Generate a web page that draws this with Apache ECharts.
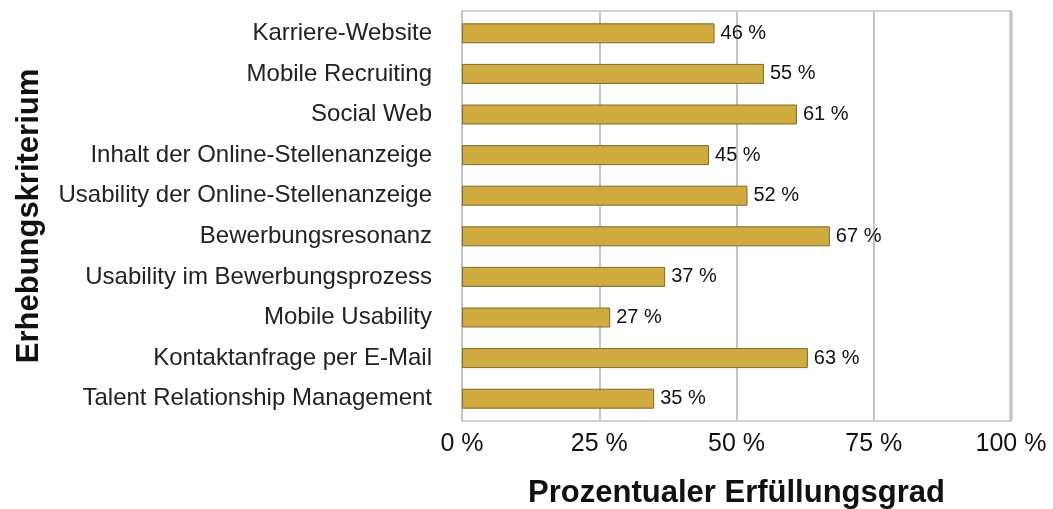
<!DOCTYPE html>
<html>
<head>
<meta charset="utf-8">
<script src="https://cdn.jsdelivr.net/npm/echarts@6/dist/echarts.min.js"></script>
<style>
  html, body { margin: 0; padding: 0; background: #fff; }
  #chart { width: 1053px; height: 509px; }
</style>
</head>
<body>
<div id="chart"></div>
<script>
// categories listed top to bottom
const categories = [
  'Karriere-Website',
  'Mobile Recruiting',
  'Social Web',
  'Inhalt der Online-Stellenanzeige',
  'Usability der Online-Stellenanzeige',
  'Bewerbungsresonanz',
  'Usability im Bewerbungsprozess',
  'Mobile Usability',
  'Kontaktanfrage per E-Mail',
  'Talent Relationship Management'
];
const values = [46, 55, 61, 45, 52, 67, 37, 27, 63, 35];
const xTicks = [0, 25, 50, 75, 100];

const font = '"Liberation Sans", Arial, sans-serif';

const chart = echarts.init(document.getElementById('chart'));
chart.setOption({
  animation: false,
  // grid 0: frame, gridlines and x labels; grid 1: the bars
  grid: [
    { left: 462, right: 42, top: 11, bottom: 88, outerBoundsMode: 'none' },
    { left: 462, right: 42, top: 13, bottom: 90, outerBoundsMode: 'none' }
  ],
  xAxis: [{
    gridIndex: 0,
    type: 'value',
    min: xTicks[0],
    max: xTicks[xTicks.length - 1],
    interval: 25,
    name: 'Prozentualer Erfüllungsgrad',
    nameLocation: 'middle',
    nameGap: 57,
    nameTextStyle: { fontFamily: font, fontWeight: 'bold', fontSize: 31, color: '#111' },
    axisLine: { show: false },
    axisTick: { show: false },
    axisLabel: {
      fontFamily: font, fontSize: 25, color: '#111', margin: 11,
      formatter: v => v + ' %'
    },
    splitLine: { lineStyle: { color: '#c4c4c4', width: 2 } }
  }, {
    gridIndex: 1,
    type: 'value',
    min: xTicks[0],
    max: xTicks[xTicks.length - 1],
    show: false
  }],
  yAxis: [{
    gridIndex: 0,
    type: 'category',
    data: categories,
    show: false
  }, {
    gridIndex: 1,
    type: 'category',
    data: categories,
    inverse: true,
    name: 'Erhebungskriterium',
    nameLocation: 'middle',
    nameGap: 417,
    nameRotate: 90,
    nameTextStyle: { fontFamily: font, fontWeight: 'bold', fontSize: 31, color: '#111' },
    axisLine: { show: false },
    axisTick: { show: false },
    axisLabel: { fontFamily: font, fontSize: 24, color: '#222', margin: 30 },
    splitLine: { show: false }
  }],
  series: [{
    type: 'bar',
    xAxisIndex: 1,
    yAxisIndex: 1,
    data: values,
    barWidth: 20,
    itemStyle: { color: '#cfab40', borderColor: '#7d6a2e', borderWidth: 1 },
    label: {
      show: true,
      position: 'right',
      distance: 6,
      fontFamily: font,
      fontSize: 20,
      color: '#111',
      formatter: p => p.value + ' %'
    }
  }],
  graphic: [{
    type: 'rect',
    shape: { x: 462, y: 11, width: 549, height: 410 },
    style: { fill: 'none', stroke: '#c4c4c4', lineWidth: 1.5 },
    silent: true, z: -1
  }, {
    type: 'line',
    shape: { x1: 462, y1: 11, x2: 462, y2: 421 },
    style: { stroke: '#8a8a8a', lineWidth: 2 },
    silent: true
  }, {
    type: 'line',
    shape: { x1: 1011, y1: 11, x2: 1011, y2: 421 },
    style: { stroke: '#b5b5b5', lineWidth: 3 },
    silent: true
  }]
});
</script>
</body>
</html>
